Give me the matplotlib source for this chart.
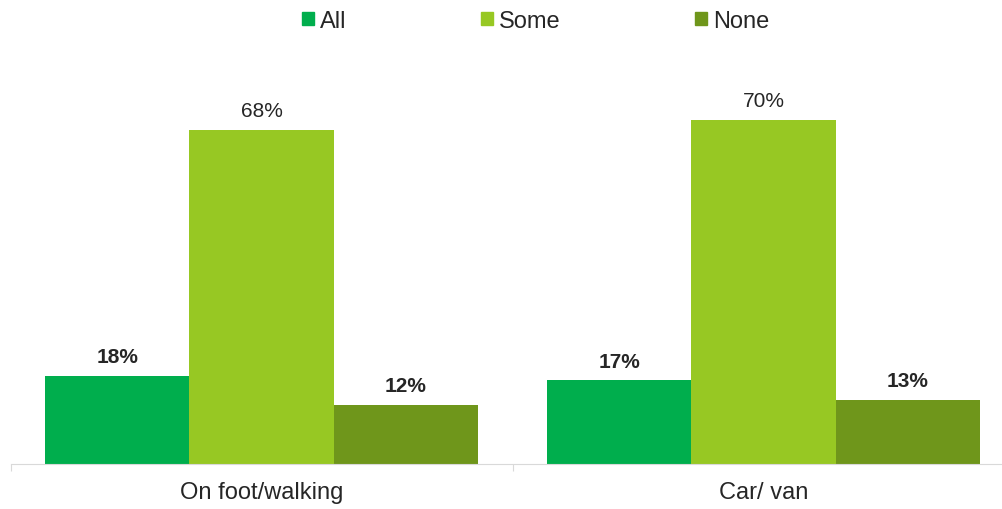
import matplotlib.pyplot as plt
import numpy as np
from matplotlib.patches import Patch

plt.rcParams['font.family'] = ['Liberation Sans', 'DejaVu Sans']

categories = ['On foot/walking', 'Car/ van']
series = ['All', 'Some', 'None']
values = {
    'All': [18, 17],
    'Some': [68, 70],
    'None': [12, 13],
}
colors = {'All': '#00ae4d', 'Some': '#97c823', 'None': '#6f961b'}
bold = {'All': True, 'Some': False, 'None': True}


def main():
    fig = plt.figure(figsize=(10.03, 5.10), dpi=100)
    ax = fig.add_axes([10.5 / 1003, 45 / 510, 1004 / 1003, 393 / 510])

    x = np.arange(len(categories))
    width = 0.287
    offsets = [-width, 0, width]
    for name, off in zip(series, offsets):
        bars = ax.bar(x + off, values[name], width, color=colors[name],
                      label=name)
        for b, v in zip(bars, values[name]):
            ax.annotate('%d%%' % v, (b.get_x() + b.get_width() / 2, v),
                        xytext=(0, 7), textcoords='offset points',
                        ha='center', va='bottom', fontsize=15,
                        fontweight='bold' if bold[name] else 'normal',
                        color='#262626')

    ax.set_xlim(-0.5, 1.5)
    ax.set_ylim(0, 80)
    ax.set_yticks([])
    for s in ['top', 'right', 'left']:
        ax.spines[s].set_visible(False)
    ax.spines['bottom'].set_color('#d9d9d9')
    ax.set_xticks([-0.5, 0.5, 1.5], minor=False)
    ax.set_xticklabels([])
    ax.tick_params(axis='x', length=5, color='#d9d9d9')
    ax.set_xticks(x, minor=True)
    ax.set_xticklabels(categories, minor=True, fontsize=17, color='#262626')
    ax.tick_params(axis='x', which='minor', length=0, pad=12)

    handles = [Patch(color=colors[n]) for n in series]
    fig.legend(handles, series, loc='center', bbox_to_anchor=(0.534, 0.957),
               ncol=3, frameon=False, fontsize=17, handlelength=0.5,
               handleheight=0.5, handletextpad=0.25, columnspacing=5.7,
               labelcolor='#262626')

    fig.savefig('out.png', dpi=100)


main()
